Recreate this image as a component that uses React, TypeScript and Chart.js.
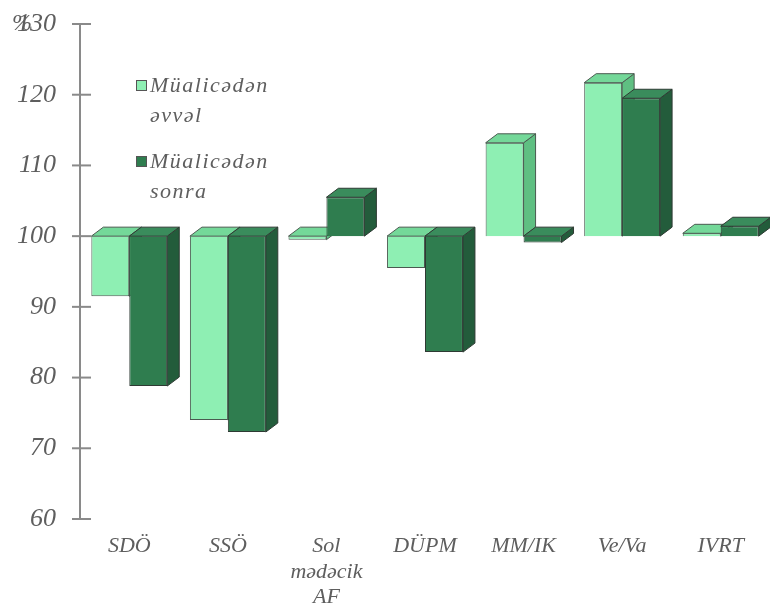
import React, { useEffect, useRef } from 'react';
import { Chart, registerables } from 'chart.js';

Chart.register(...registerables);

const categories: (string | string[])[] = ['SDÖ', 'SSÖ', ['Sol', 'mədəcik', 'AF'], 'DÜPM', 'MM/IK', 'Ve/Va', 'IVRT'];
const seriesNames = ['Müalicədən əvvəl', 'Müalicədən sonra'];
const legendLines = [['Müalicədən', 'əvvəl'], ['Müalicədən', 'sonra']];
const beforeValues = [91.5, 74, 99.5, 95.5, 113.2, 121.7, 100.4];
const afterValues = [78.8, 72.3, 105.5, 83.6, 99.1, 119.5, 101.4];
const baseValue = 100;
const yMin = 60;
const yMax = 130;
const yStep = 10;
const unitLabel = '%';

const TEXT = '#5e5e5e';
const FONT_FAMILY = '"Liberation Serif", "Times New Roman", serif';

const faceColors = [
  { front: '#8eefb3', top: '#74d899', side: '#5fbf82', border: '#4a5a50' },
  { front: '#2f7d4f', top: '#3a8c5c', side: '#235c3b', border: '#2e3a33' },
];

function drawFaces(chart: any, idx: number) {
  const { ctx } = chart;
  const c = faceColors[idx];
  const meta = chart.getDatasetMeta(idx);
  const dx = 12;
  const dy = -9;
  ctx.save();
  ctx.lineWidth = 1;
  ctx.strokeStyle = c.border;
  meta.data.forEach((el: any) => {
    const p = el.getProps(['x', 'y', 'base', 'width'], true);
    const left = p.x - p.width / 2;
    const right = p.x + p.width / 2;
    const top = Math.min(p.y, p.base);
    const bottom = Math.max(p.y, p.base);
    ctx.beginPath();
    ctx.moveTo(right, top);
    ctx.lineTo(right + dx, top + dy);
    ctx.lineTo(right + dx, bottom + dy);
    ctx.lineTo(right, bottom);
    ctx.closePath();
    ctx.fillStyle = c.side;
    ctx.fill();
    ctx.stroke();
    ctx.beginPath();
    ctx.moveTo(left, top);
    ctx.lineTo(left + dx, top + dy);
    ctx.lineTo(right + dx, top + dy);
    ctx.lineTo(right, top);
    ctx.closePath();
    ctx.fillStyle = c.top;
    ctx.fill();
    ctx.stroke();
  });
  ctx.restore();
}

const threeD = {
  id: 'threeD',
  beforeDatasetsDraw(chart: any) {
    for (let i = 0; i < chart.data.datasets.length; i++) {
      const meta = chart.getDatasetMeta(i);
      meta.controller.draw();
      drawFaces(chart, i);
    }
    return false;
  },
};

const decorations = {
  id: 'decorations',
  afterDraw(chart: any) {
    const { ctx } = chart;
    const y = chart.scales.y;
    ctx.save();
    ctx.strokeStyle = '#8a8a8a';
    ctx.lineWidth = 2;
    y.ticks.forEach((t: any) => {
      const py = y.getPixelForValue(t.value);
      ctx.beginPath();
      ctx.moveTo(y.right - 8, py);
      ctx.lineTo(y.right + 11, py);
      ctx.stroke();
    });
    ctx.fillStyle = TEXT;
    ctx.font = `italic 24px ${FONT_FAMILY}`;
    ctx.textAlign = 'left';
    ctx.textBaseline = 'middle';
    ctx.fillText(unitLabel, 12, y.getPixelForValue(yMax));
    const ys = [86, 162];
    ctx.font = `italic 22px ${FONT_FAMILY}`;
    (ctx as any).letterSpacing = '1.5px';
    legendLines.forEach((lines, k) => {
      const ly = ys[k];
      ctx.fillStyle = faceColors[k].front;
      ctx.fillRect(136, ly - 6, 11, 11);
      ctx.strokeStyle = '#555';
      ctx.lineWidth = 1;
      ctx.strokeRect(136.5, ly - 5.5, 10, 10);
      ctx.fillStyle = TEXT;
      lines.forEach((ln, i) => {
        ctx.fillText(ln, 150, ly + i * 30);
      });
    });
    ctx.restore();
  },
};

export default function App() {
  const ref = useRef<HTMLCanvasElement | null>(null);
  useEffect(() => {
    if (!ref.current) return;
    const chart = new Chart(ref.current, {
      type: 'bar',
      data: {
        labels: categories as any,
        datasets: [
          {
            label: seriesNames[0],
            data: beforeValues,
            base: baseValue,
            backgroundColor: faceColors[0].front,
            borderColor: faceColors[0].border,
            borderWidth: 1,
          } as any,
          {
            label: seriesNames[1],
            data: afterValues,
            base: baseValue,
            backgroundColor: faceColors[1].front,
            borderColor: faceColors[1].border,
            borderWidth: 1,
          } as any,
        ],
      },
      options: {
        animation: false,
        responsive: false,
        maintainAspectRatio: false,
        layout: { padding: { top: 24, right: 0, left: 0, bottom: 0 } },
        plugins: {
          legend: { display: false },
          tooltip: { enabled: false },
        },
        datasets: {
          bar: { categoryPercentage: 0.77, barPercentage: 1 },
        },
        scales: {
          x: {
            grid: { display: false, drawTicks: false },
            border: { display: false },
            ticks: {
              color: TEXT,
              padding: 15,
              maxRotation: 0,
              autoSkip: false,
              font: { family: FONT_FAMILY, style: 'italic', size: 22, lineHeight: 1.15 },
            },
            afterFit: (s: any) => {
              s.height = 85;
              s.paddingLeft = 0;
              s.paddingRight = 0;
              s.paddingTop = 0;
              s.paddingBottom = 0;
            },
          },
          y: {
            min: yMin,
            max: yMax,
            grid: { display: false, drawTicks: false },
            border: { display: true, color: '#8a8a8a', width: 2 },
            ticks: {
              stepSize: yStep,
              color: TEXT,
              padding: 24,
              font: { family: FONT_FAMILY, style: 'italic', size: 26 },
            },
            afterFit: (s: any) => {
              s.width = 80;
              s.paddingTop = 0;
              s.paddingBottom = 0;
              s.paddingLeft = 0;
              s.paddingRight = 0;
            },
          },
        },
      },
      plugins: [threeD, decorations],
    });
    return () => chart.destroy();
  }, []);
  return (
    <div style={{ position: 'fixed', left: 0, top: 0, width: 770, height: 604, background: '#fff' }}>
      <canvas ref={ref} width={770} height={604} style={{ display: 'block', width: 770, height: 604 }} />
    </div>
  );
}
